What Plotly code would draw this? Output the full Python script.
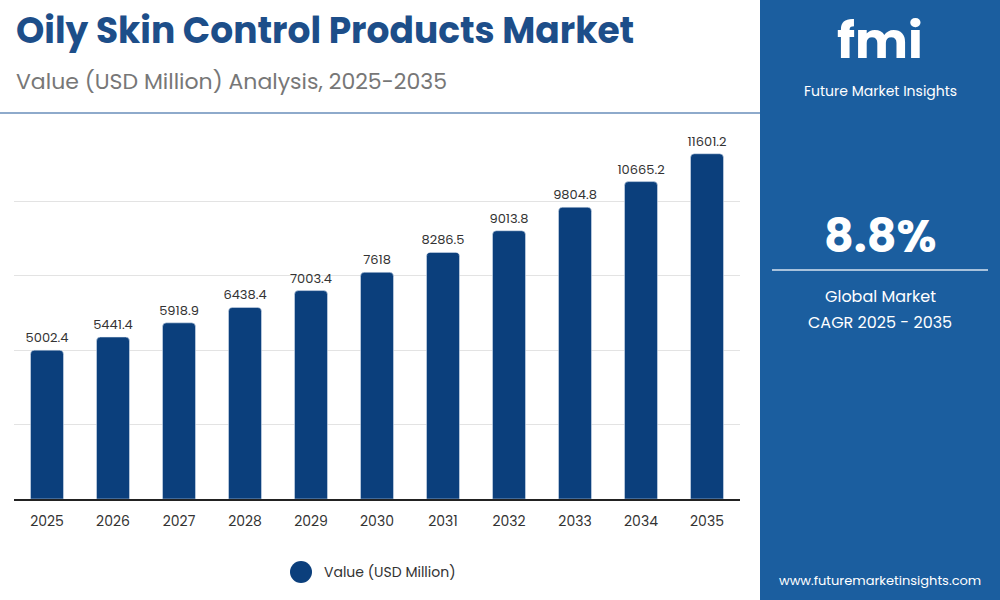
import plotly.graph_objects as go

years = ["2025", "2026", "2027", "2028", "2029", "2030", "2031", "2032", "2033", "2034", "2035"]
values = [5002.4, 5441.4, 5918.9, 6438.4, 7003.4, 7618, 8286.5, 9013.8, 9804.8, 10665.2, 11601.2]
labels = ["5002.4", "5441.4", "5918.9", "6438.4", "7003.4", "7618", "8286.5", "9013.8", "9804.8", "10665.2", "11601.2"]

bar_col = "#0b3f7c"
panel_col = "#1b5e9f"

fig = go.Figure()
fig.add_trace(go.Bar(x=years, y=values, text=labels, textposition="outside", constraintext="none",
                     textfont=dict(family="Poppins, Open Sans, sans-serif", size=13, color="#333"),
                     marker=dict(color=bar_col, cornerradius=4), width=0.5,
                     name="Value (USD Million)", cliponaxis=False))

fig.update_layout(
    width=1000, height=600, plot_bgcolor="white", paper_bgcolor="white",
    margin=dict(l=14, r=260, t=127, b=101),
    showlegend=False,
    font=dict(family="Open Sans, sans-serif"),
    xaxis=dict(showline=True, linecolor="#222", linewidth=1.5, ticks="outside", ticklen=8,
               tickcolor="rgba(0,0,0,0)",
               tickfont=dict(size=14, color="#333", family="Poppins, Open Sans, sans-serif")),
    yaxis=dict(range=[0, 12500], dtick=2500, showticklabels=False,
               gridcolor="#e3e3e3", zeroline=False),
)

def px(x): return (x - 14) / 726
def py(y): return (600 - y - 101) / 372

fig.add_shape(type="rect", xref="paper", yref="paper", x0=px(760), x1=px(1000), y0=py(600), y1=py(0),
              fillcolor=panel_col, line_width=0, layer="below")
fig.add_shape(type="line", xref="paper", yref="paper", x0=px(0), x1=px(760), y0=py(113), y1=py(113),
              line=dict(color="#8eaacb", width=2))
fig.add_shape(type="line", xref="paper", yref="paper", x0=px(772), x1=px(988), y0=py(270), y1=py(270),
              line=dict(color="#d8e4f0", width=1.5))

ann = [
    dict(x=px(14), y=py(30), text="<b>Oily Skin Control Products Market</b>", size=36, color="#1d4e89", xa="left"),
    dict(x=px(14), y=py(81), text="Value (USD Million) Analysis, 2025-2035", size=22, color="#777", xa="left"),
    dict(x=px(880), y=py(236), text="<b>8.8%</b>", size=46, color="white", xa="center"),
    dict(x=px(880), y=py(296), text="Global Market", size=16, color="white", xa="center"),
    dict(x=px(880), y=py(322), text="CAGR 2025 - 2035", size=16, color="white", xa="center"),
    dict(x=px(880), y=py(40), text="<b>fmi</b>", size=50, color="white", xa="center"),
    dict(x=px(880), y=py(91), text="Future Market Insights", size=14, color="white", xa="center"),
    dict(x=px(880), y=py(580), text="www.futuremarketinsights.com", size=13, color="white", xa="center"),
    dict(x=px(322), y=py(572), text="Value (USD Million)", size=14, color="#333", xa="left"),
]
for a in ann:
    fig.add_annotation(x=a["x"], y=a["y"], xref="paper", yref="paper", text=a["text"], showarrow=False,
                       xanchor=a["xa"], yanchor="middle",
                       font=dict(size=a["size"], color=a["color"], family="Poppins, Open Sans, sans-serif"))
fig.add_shape(type="circle", xref="paper", yref="paper", x0=px(290), x1=px(312), y0=py(583), y1=py(561),
              fillcolor=bar_col, line_width=0)

fig.write_html("out.html", config={"displayModeBar": False})
# drop the browser's default body margin so the figure sits at the page corner
with open("out.html", encoding="utf-8") as f:
    page = f.read()
page = page.replace("<body>", '<body style="margin:0;overflow:hidden">', 1)
with open("out.html", "w", encoding="utf-8") as f:
    f.write(page)
